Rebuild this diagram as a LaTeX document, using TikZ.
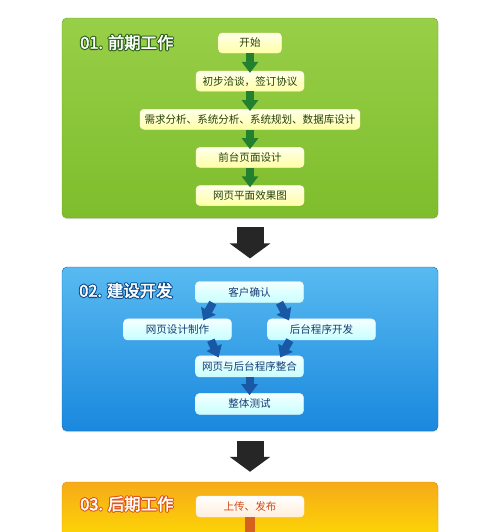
\documentclass[tikz,border=0pt]{standalone}
\usepackage{fontspec}
\setmainfont{Noto Sans CJK SC}
\usetikzlibrary{arrows.meta, positioning, calc, shadows}
\definecolor{leaftop}{RGB}{152,207,72}
\definecolor{leafbottom}{RGB}{126,189,44}
\definecolor{leafedge}{RGB}{108,165,38}
\definecolor{leafarrow}{RGB}{34,128,46}
\definecolor{leaftext}{RGB}{38,64,12}
\definecolor{skytop}{RGB}{88,186,240}
\definecolor{skybottom}{RGB}{26,136,222}
\definecolor{skyedge}{RGB}{22,112,192}
\definecolor{skyarrow}{RGB}{24,88,164}
\definecolor{skytext}{RGB}{20,60,115}
\definecolor{suntop}{RGB}{246,170,24}
\definecolor{sunbottom}{RGB}{255,226,0}
\definecolor{sunedge}{RGB}{230,148,22}
\definecolor{sunarrow}{RGB}{214,96,30}
\definecolor{suntext}{RGB}{214,72,22}
\definecolor{darkarrow}{RGB}{38,38,38}

% white title text with a coloured rim (rim colour as r g b)
\newcommand{\outlined}[2]{%
  \rlap{\special{pdf:literal direct 1 Tr 2.2 w 1 j #1 RG}#2}%
  \special{pdf:literal direct 2 Tr 0.35 w 1 1 1 RG}#2\special{pdf:literal direct 0 Tr}}

\begin{document}
\begin{tikzpicture}[
    % 樣式定義
    phase/.style={
        draw, rounded corners=0.15cm, minimum width=11.28cm,
        drop shadow={opacity=0.25, shadow xshift=0pt, shadow yshift=-1pt}
    },
    phase_title/.style={
        anchor=west, inner sep=0pt, text=white, font=\fontsize{14}{15}\selectfont
    },
    stepbox/.style={
        rounded corners=0.12cm, minimum height=0.6cm, minimum width=3.24cm,
        inner sep=1pt, font=\fontsize{9}{10}\selectfont
    },
    leafbox/.style={
        stepbox, draw=white!60!yellow!30!white, top color=yellow!8!white,
        bottom color=yellow!35!white, text=leaftext
    },
    skybox/.style={
        stepbox, minimum height=0.63cm, draw=cyan!10!white, top color=cyan!4!white,
        bottom color=cyan!22!white, text=skytext
    },
    sunbox/.style={
        stepbox, minimum height=0.63cm, draw=orange!10!white, top color=white,
        bottom color=orange!14!white, text=suntext
    },
    step_arrow/.style={
        -{Triangle[width=0.48cm, length=0.33cm]}, line width=0.24cm, shorten >=-0.06cm
    },
    phase_arrow/.style={
        -{Triangle[width=1.2cm, length=0.45cm]}, line width=0.81cm, color=darkarrow
    }
]
    \path[use as bounding box, clip] (0,0) rectangle (15,-15.96);

    % --- 01. 前期工作 ---
    \node[phase, draw=leafedge, top color=leaftop, bottom color=leafbottom, minimum height=6cm] (phase1) at (7.5,-3.54) {};
    \node[phase_title] (title1) at (2.4,-1.275) {\outlined{0.157 0.376 0.086}{01. 前期工作}};

    \node[leafbox, minimum width=1.89cm] (start) at (7.5,-1.29) {开始};
    \node[leafbox, below=0.53cm of start] (talk) {初步洽谈，签订协议};
    \node[leafbox, below=0.53cm of talk, minimum width=6.6cm] (analysis) {需求分析、系统分析、系统规划、数据库设计};
    \node[leafbox, below=0.53cm of analysis] (frontpage) {前台页面设计};
    \node[leafbox, below=0.53cm of frontpage] (mockup) {网页平面效果图};

    \draw[step_arrow, leafarrow] (start.south) -- (talk.north);
    \draw[step_arrow, leafarrow] (talk.south) -- (analysis.north);
    \draw[step_arrow, leafarrow] (analysis.south) -- (frontpage.north);
    \draw[step_arrow, leafarrow] (frontpage.south) -- (mockup.north);

    % --- 02. 建设开发 ---
    \node[phase, draw=skyedge, top color=skytop, bottom color=skybottom, minimum height=4.92cm] (phase2) at (7.5,-10.47) {};
    \node[phase_title] (title2) at (2.37,-8.715) {\outlined{0.055 0.298 0.557}{02. 建设开发}};

    \node[skybox] (confirm) at (7.485,-8.76) {客户确认};
    \node[skybox, below=0.48cm of confirm, xshift=-2.16cm] (webdesign) {网页设计制作};
    \node[skybox, below=0.48cm of confirm, xshift=2.16cm] (backend) {后台程序开发};
    \node[skybox, below=1.59cm of confirm] (merge) {网页与后台程序整合};
    \node[skybox, below=0.48cm of merge] (testing) {整体测试};

    \draw[step_arrow, skyarrow] ([xshift=-1.1cm]confirm.south) -- ([xshift=0.8cm]webdesign.north);
    \draw[step_arrow, skyarrow] ([xshift=0.9cm]confirm.south) -- ([xshift=-1.0cm]backend.north);
    \draw[step_arrow, skyarrow] ([xshift=1.0cm]webdesign.south) -- ([xshift=-0.95cm]merge.north);
    \draw[step_arrow, skyarrow] ([xshift=-0.95cm]backend.south) -- ([xshift=0.95cm]merge.north);
    \draw[step_arrow, skyarrow] (merge.south) -- (testing.north);

    % --- 03. 后期工作 ---
    \node[phase, draw=sunedge, top color=suntop, bottom color=sunbottom, minimum height=2.1cm] (phase3) at (7.5,-15.51) {};
    \node[phase_title] (title3) at (2.4,-15.12) {\outlined{0.871 0.345 0.110}{03. 后期工作}};

    \node[sunbox] (publish) at (7.5,-15.195) {上传、发布};
    \coordinate (publish_end) at ([yshift=-1cm]publish.south);
    \draw[line width=0.3cm, sunarrow] (publish.south) -- (publish_end);

    % --- phase to phase ---
    \draw[phase_arrow, shorten <=0.27cm, shorten >=0.25cm] (phase1.south) -- (phase2.north);
    \draw[phase_arrow, shorten <=0.3cm, shorten >=0.3cm] (phase2.south) -- (phase3.north);

\end{tikzpicture}
\end{document}
